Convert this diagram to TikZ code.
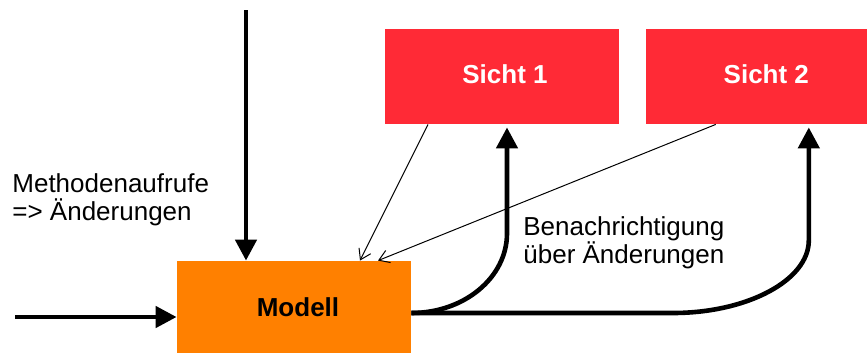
\documentclass[tikz,border=0pt]{standalone}
\usepackage{fontspec}
\setmainfont{Liberation Sans}
\usetikzlibrary{arrows.meta,positioning,calc}
\definecolor{viewred}{HTML}{FF2A36}
\definecolor{modelorange}{HTML}{FF8000}

\begin{document}
\begin{tikzpicture}[
  x=0.5pt,y=-0.5pt,
  node distance=13pt,
  every node/.style={font=\fontsize{13}{14}\selectfont,align=left},
  viewbox/.style={fill=viewred,text=white,font=\fontsize{13}{14}\selectfont\bfseries,
              minimum width=117pt,minimum height=47.5pt,inner sep=0pt,
              text height=9.5pt,text depth=3pt},
  modelbox/.style={fill=modelorange,font=\fontsize{13}{14}\selectfont\bfseries,
              minimum width=117pt,minimum height=46pt,inner sep=0pt},
  thickarr/.style={-{Triangle[length=10.5pt,width=10.5pt]},line width=2.3pt},
  thinarr/.style={-{Straight Barb[length=5pt,width=6.5pt]},line width=0.5pt}
]
\useasboundingbox (0,0) rectangle (867,354);
\clip (0,0) rectangle (867,354);
\node[viewbox] (sicht1) at (502,76.5) {\hspace*{3pt}Sicht 1};
\node[viewbox,right=of sicht1] (sicht2) {\hspace*{3.5pt}Sicht 2};
\node[modelbox] (modell) at (294,307) {\hspace*{4pt}Modell};
\coordinate (oben) at (246,10);
\coordinate (links) at (15,317);
\node[inner sep=0pt,anchor=west] (aufrufe) at (12,200) {Methodenaufrufe\\=> Änderungen};
\node[inner sep=0pt,anchor=west] (benachr) at (523,243) {Benachrichtigung\\über Änderungen};
% calls into the model
\draw[thickarr] (oben) -- (oben |- modell.north);
\draw[thickarr] (links) -- (links -| modell.west);
% views register at the model
\draw[thinarr] ($(sicht1.south)+(-74,0)$) -- ($(modell.north)+(66,0)$);
\draw[thinarr] ($(sicht2.south)+(-47,0)$) -- ($(modell.north)+(84,0)$);
% notifications
\draw[thickarr] ($(modell.east)+(0,6)$) .. controls +(53,0) and +(0,44) ..
  ($(sicht1.south)+(5,109)$) -- ($(sicht1.south)+(5,3)$);
\draw[thickarr] ($(modell.east)+(0,6)$) -- (673,313) .. controls +(74,0) and +(0,40) ..
  ($(sicht2.south)+(46,116)$) -- ($(sicht2.south)+(46,3)$);
\end{tikzpicture}
\end{document}
